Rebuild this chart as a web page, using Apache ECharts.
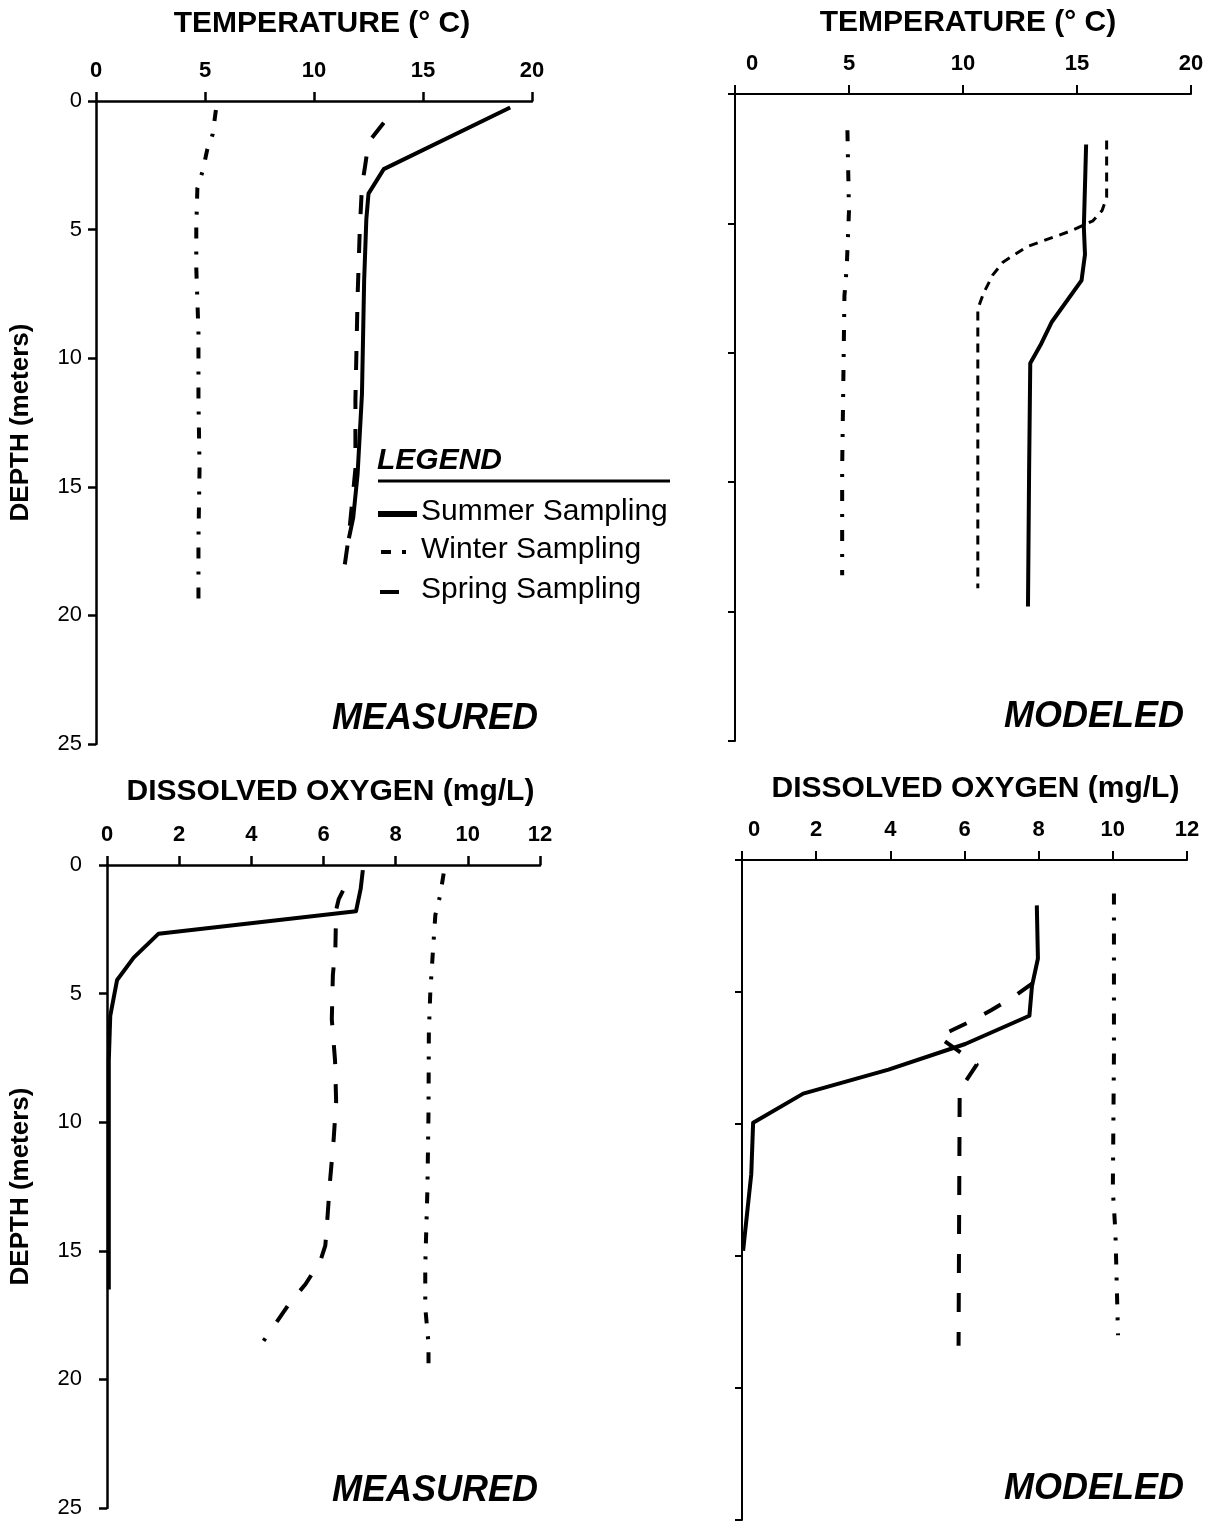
<!DOCTYPE html>
<html>
<head>
<meta charset="utf-8">
<title>Temperature and dissolved oxygen profiles</title>
<script src="https://cdn.jsdelivr.net/npm/echarts@6/dist/echarts.min.js"></script>
<style>
  html, body { margin: 0; padding: 0; background: #fff; }
  #chart { width: 1216px; height: 1524px; }
</style>
</head>
<body>
<div id="chart"></div>
<script>
// depths (m) and values
// measured temperature (deg C)
const tempMeasSummerDepth = [0.25, 2.65, 3.6, 4.6, 7, 11.4, 14.5, 16.2, 17.0];
const tempMeasSummer = [19.0, 13.2, 12.5, 12.4, 12.3, 12.2, 12.0, 11.8, 11.6];
const tempMeasWinterDepth = [0.35, 1.3, 1.9, 2.7, 3.4, 4.9, 6.5, 9, 11.6, 14.3, 17.0, 19.6];
const tempMeasWinter = [5.5, 5.35, 5.1, 4.9, 4.65, 4.6, 4.6, 4.7, 4.7, 4.75, 4.7, 4.7];
const tempMeasSpringDepth = [0.85, 1.6, 2.5, 3.3, 5, 7.6, 11.6, 14.3, 16.9, 18.4];
const tempMeasSpring = [13.2, 12.5, 12.35, 12.2, 12.1, 12.0, 11.9, 11.9, 11.6, 11.35];

// modeled temperature (deg C)
const tempModSummerDepth = [1.95, 5.15, 6.2, 7.2, 8.8, 9.7, 10.4, 14.5, 19.8];
const tempModSummer = [15.4, 15.3, 15.35, 15.2, 13.9, 13.4, 12.95, 12.9, 12.85];
const tempModWinterDepth = [1.4, 4.5, 6.7, 7.8, 11.2, 14.5, 18.6];
const tempModWinter = [4.93, 5.0, 4.9, 4.8, 4.75, 4.7, 4.7];
const tempModSpringDepth = [1.8, 4.0, 4.5, 4.9, 5.3, 5.9, 6.5, 7.0, 7.7, 8.3, 19.1];
const tempModSpring = [16.3, 16.3, 16.1, 15.7, 14.7, 12.8, 11.75, 11.3, 10.9, 10.65, 10.65];

// measured dissolved oxygen (mg/L)
const doMeasSummerDepth = [0.2, 0.93, 1.8, 2.67, 3.6, 4.47, 5.87, 7.6, 16.5];
const doMeasSummer = [7.09, 7.03, 6.9, 1.43, 0.74, 0.28, 0.09, 0.05, 0.05];
const doMeasWinterDepth = [0.33, 1.2, 1.94, 3.4, 4.94, 6.5, 9.6, 12.6, 15.6, 17.2, 18.6, 19.5];
const doMeasWinter = [9.33, 9.23, 9.1, 9.03, 8.96, 8.92, 8.91, 8.88, 8.82, 8.82, 8.91, 8.91];
const doMeasSpringDepth = [1.0, 1.34, 1.74, 3.2, 4.27, 6.0, 7.6, 9.2, 10.7, 12.3, 13.9, 14.8, 15.4, 16.3, 17.0, 18.5];
const doMeasSpring = [6.54, 6.42, 6.35, 6.33, 6.26, 6.23, 6.32, 6.35, 6.28, 6.18, 6.1, 6.05, 5.91, 5.5, 5.08, 4.34];

// modeled dissolved oxygen (mg/L)
const doModSummerDepth = [1.72, 3.73, 4.77, 5.9, 6.97, 7.94, 8.85, 9.95, 11.9, 14.8];
const doModSummer = [7.95, 7.98, 7.82, 7.75, 6.02, 3.95, 1.65, 0.3, 0.25, 0.03];
const doModWinterDepth = [1.27, 7.36, 12.5, 14.1, 18.0];
const doModWinter = [10.03, 10.03, 10.0, 10.07, 10.14];
const doModSpringDepth = [4.65, 5.16, 5.67, 6.06, 6.45, 6.7, 7.36, 7.75, 7.94, 8.72, 18.4];
const doModSpring = [7.85, 7.35, 6.74, 6.24, 5.66, 5.3, 5.97, 6.33, 6.24, 5.87, 5.84];

const depthTicks = [0, 25, 5];
const tempTicks = [0, 20, 5];
const doTicks = [0, 12, 2];

const FONT = "'Liberation Sans', Arial, Helvetica, sans-serif";

function pairs(vals, depths) {
  return vals.map((v, i) => [v, depths[i]]);
}

function xAxisFor(idx, name, ticks, opts) {
  return {
    type: 'value',
    gridIndex: idx,
    position: 'top',
    min: ticks[0],
    max: ticks[1],
    interval: ticks[2],
    name: name,
    nameLocation: 'middle',
    nameGap: opts.nameGap,
    nameTextStyle: {
      fontFamily: FONT, fontWeight: 'bold', fontSize: 30, color: '#000',
      padding: [0, 0, 0, opts.nameShift || 0]
    },
    axisLine: { show: true, lineStyle: { color: '#000', width: opts.lineW } },
    axisTick: { show: true, length: 9, lineStyle: { color: '#000', width: opts.lineW } },
    splitLine: { show: false },
    axisLabel: {
      margin: 19,
      fontFamily: FONT, fontWeight: 'bold', fontSize: 22, color: '#000',
      formatter: function (v) {
        return (v === 0 && opts.zeroShift) ? '{z|0}' : String(v);
      },
      rich: {
        z: {
          fontFamily: FONT, fontWeight: 'bold', fontSize: 22, color: '#000',
          padding: [0, 0, 0, opts.zeroShift || 0]
        }
      }
    }
  };
}

function yAxisFor(idx, opts) {
  return {
    type: 'value',
    gridIndex: idx,
    inverse: true,
    min: depthTicks[0],
    max: depthTicks[1],
    interval: depthTicks[2],
    name: opts.showName ? 'DEPTH (meters)' : '',
    nameLocation: 'middle',
    nameRotate: 90,
    nameGap: opts.nameGap || 0,
    nameTextStyle: { fontFamily: FONT, fontWeight: 'bold', fontSize: 26, color: '#000' },
    axisLine: { show: true, onZero: false, lineStyle: { color: '#000', width: opts.lineW } },
    axisTick: { show: true, length: opts.tickLen, lineStyle: { color: '#000', width: opts.lineW } },
    splitLine: { show: false },
    axisLabel: {
      show: opts.showLabels,
      margin: opts.labelMargin || 12,
      fontFamily: FONT, fontSize: 22, color: '#000'
    }
  };
}

function profile(name, idx, data, dash, width) {
  return {
    name: name,
    type: 'line',
    xAxisIndex: idx,
    yAxisIndex: idx,
    data: data,
    symbol: 'none',
    silent: true,
    lineStyle: { color: '#000', width: width || 4, type: dash, cap: 'butt', join: 'round' }
  };
}

const SOLID = 'solid';
const DASH_DOT = [11, 13, 3, 13];
const LONG_DASH = [19, 20];
const SHORT_DASH = [9, 7];

const chart = echarts.init(document.getElementById('chart'), null, { renderer: 'canvas' });

chart.setOption({
  animation: false,
  backgroundColor: '#fff',
  grid: [
    { left: 96, top: 101, width: 436, height: 643 },
    { left: 735, top: 94, width: 456, height: 647 },
    { left: 107, top: 865, width: 433, height: 643 },
    { left: 742, top: 860, width: 445, height: 660 }
  ],
  xAxis: [
    xAxisFor(0, 'TEMPERATURE (° C)', tempTicks, { nameGap: 62, lineW: 2.5, nameShift: 16 }),
    xAxisFor(1, 'TEMPERATURE (° C)', tempTicks, { nameGap: 56, lineW: 2, zeroShift: 34, nameShift: 10 }),
    xAxisFor(2, 'DISSOLVED OXYGEN (mg/L)', doTicks, { nameGap: 58, lineW: 2.5, nameShift: 14 }),
    xAxisFor(3, 'DISSOLVED OXYGEN (mg/L)', doTicks, { nameGap: 56, lineW: 2, zeroShift: 24, nameShift: 22 })
  ],
  yAxis: [
    yAxisFor(0, { showName: true, nameGap: 62, lineW: 2.5, tickLen: 8, showLabels: true, labelMargin: 14 }),
    yAxisFor(1, { showName: false, lineW: 2, tickLen: 7, showLabels: false }),
    yAxisFor(2, { showName: true, nameGap: 73, lineW: 2.5, tickLen: 8, showLabels: true, labelMargin: 25 }),
    yAxisFor(3, { showName: false, lineW: 2, tickLen: 7, showLabels: false })
  ],
  series: [
    profile('Summer Sampling', 0, pairs(tempMeasSummer, tempMeasSummerDepth), SOLID),
    profile('Winter Sampling', 0, pairs(tempMeasWinter, tempMeasWinterDepth), DASH_DOT),
    profile('Spring Sampling', 0, pairs(tempMeasSpring, tempMeasSpringDepth), LONG_DASH),

    profile('Summer Sampling', 1, pairs(tempModSummer, tempModSummerDepth), SOLID),
    profile('Winter Sampling', 1, pairs(tempModWinter, tempModWinterDepth), DASH_DOT),
    profile('Spring Sampling', 1, pairs(tempModSpring, tempModSpringDepth), SHORT_DASH, 3),

    profile('Summer Sampling', 2, pairs(doMeasSummer, doMeasSummerDepth), SOLID),
    profile('Winter Sampling', 2, pairs(doMeasWinter, doMeasWinterDepth), DASH_DOT),
    profile('Spring Sampling', 2, pairs(doMeasSpring, doMeasSpringDepth), LONG_DASH),

    profile('Summer Sampling', 3, pairs(doModSummer, doModSummerDepth), SOLID),
    profile('Winter Sampling', 3, pairs(doModWinter, doModWinterDepth), DASH_DOT),
    profile('Spring Sampling', 3, pairs(doModSpring, doModSpringDepth), LONG_DASH)
  ],
  graphic: [
    // panel captions
    { type: 'text', left: 332, top: 701, style: { text: 'MEASURED', font: 'italic bold 36px ' + FONT, fill: '#000' } },
    { type: 'text', left: 1004, top: 699, style: { text: 'MODELED', font: 'italic bold 36px ' + FONT, fill: '#000' } },
    { type: 'text', left: 332, top: 1473, style: { text: 'MEASURED', font: 'italic bold 36px ' + FONT, fill: '#000' } },
    { type: 'text', left: 1004, top: 1471, style: { text: 'MODELED', font: 'italic bold 36px ' + FONT, fill: '#000' } },

    // legend box in the first panel
    { type: 'text', left: 377, top: 446, style: { text: 'LEGEND', font: 'italic bold 30px ' + FONT, fill: '#000' } },
    { type: 'line', shape: { x1: 378, y1: 481, x2: 670, y2: 481 }, style: { stroke: '#000', lineWidth: 3 } },

    { type: 'line', shape: { x1: 378, y1: 514, x2: 417, y2: 514 }, style: { stroke: '#000', lineWidth: 6 } },
    { type: 'text', left: 421, top: 497, style: { text: 'Summer Sampling', font: '30px ' + FONT, fill: '#000' } },

    { type: 'line', shape: { x1: 381, y1: 552, x2: 391, y2: 552 }, style: { stroke: '#000', lineWidth: 4 } },
    { type: 'line', shape: { x1: 402, y1: 552, x2: 406, y2: 552 }, style: { stroke: '#000', lineWidth: 4 } },
    { type: 'text', left: 421, top: 535, style: { text: 'Winter Sampling', font: '30px ' + FONT, fill: '#000' } },

    { type: 'line', shape: { x1: 380, y1: 592, x2: 399, y2: 592 }, style: { stroke: '#000', lineWidth: 4 } },
    { type: 'text', left: 421, top: 575, style: { text: 'Spring Sampling', font: '30px ' + FONT, fill: '#000' } }
  ]
});
</script>
</body>
</html>
